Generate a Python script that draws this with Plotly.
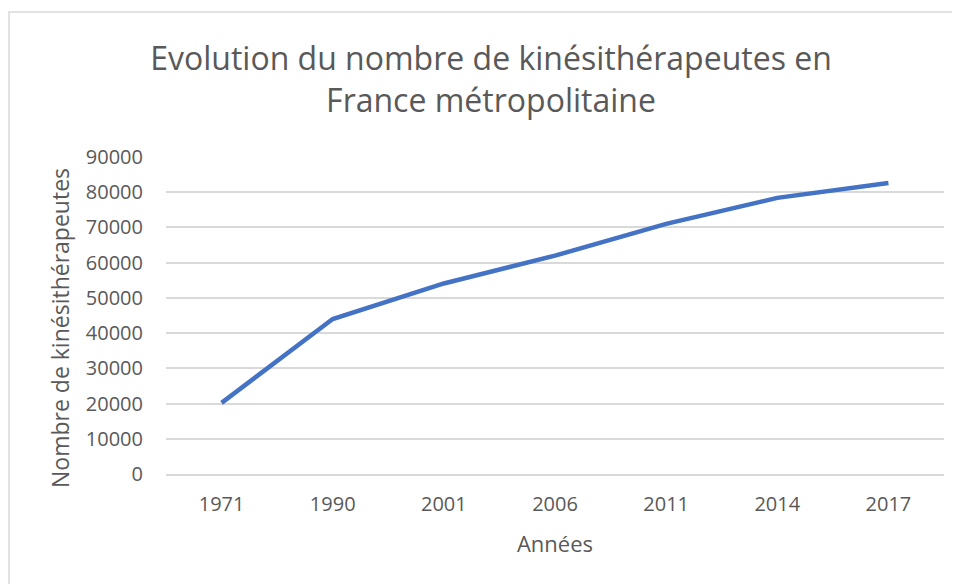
import plotly.graph_objects as go

# donnees
annees = ['1971', '1990', '2001', '2006', '2011', '2014', '2017']
nb_kines = [20200, 44000, 54100, 62000, 71000, 78400, 82600]
y_ticks = [0, 10000, 20000, 30000, 40000, 50000, 60000, 70000, 80000, 90000]

gris = '#595959'
fnt = 'Open Sans'

fig = go.Figure()
fig.add_trace(go.Scatter(
    x=annees,
    y=nb_kines,
    mode='lines',
    line=dict(color='#4472C4', width=4.5),
    showlegend=False,
))

# la page a une marge de 8px -> figure 952x576
OFF = 8
W, H = 960 - OFF, 584 - OFF
# plot area visee: x 166 -> 944, y 157 -> 474 (coord. fenetre)
l, r, t, b = 166 - OFF, 16, 157 - OFF, 110
pw, ph = W - l - r, H - t - b

fig.update_layout(
    width=W, height=H,
    margin=dict(l=l, r=r, t=t, b=b, pad=0),
    paper_bgcolor='white',
    plot_bgcolor='white',
    font=dict(family=fnt, color=gris, size=20),
    title=dict(
        text='Evolution du nombre de kinésithérapeutes en<br>France métropolitaine',
        xref='container', x=(491 - OFF) / W, xanchor='center',
        yref='container', y=1 - (70 - OFF) / H, yanchor='middle',
        font=dict(family=fnt, size=32, color=gris),
    ),
    xaxis=dict(
        type='category',
        range=[-0.5, 6.5],
        showgrid=False,
        showline=True,
        linecolor='#d9d9d9',
        linewidth=1.5,
        ticks='',
        tickfont=dict(size=20, color=gris),
        ticklabelstandoff=11,
        title=dict(text='Années', font=dict(size=22, color=gris), standoff=21),
    ),
    yaxis=dict(
        range=[0, 90000],
        tickvals=y_ticks,
        tickformat='d',
        showgrid=True,
        gridcolor='#d9d9d9',
        gridwidth=1.5,
        zeroline=False,
        showline=False,
        ticks='',
        tickfont=dict(size=20, color=gris),
        ticklabelstandoff=22,
    ),
)

# titre de l'axe vertical (un peu decale vers le bas comme dans Excel)
fig.add_annotation(
    text='Nombre de kinésithérapeutes',
    textangle=-90,
    xref='paper', yref='paper',
    x=(60 - 166) / pw, y=(474 - 328) / ph,
    xanchor='center', yanchor='middle',
    showarrow=False,
    font=dict(family=fnt, size=23, color=gris),
)

# cadre du graphique (style Excel)
fig.add_shape(
    type='rect', xref='paper', yref='paper',
    x0=(1 - l) / pw, x1=(W + 10 - l) / pw,
    y0=-(b + 20) / ph, y1=1 + (t - (12 - OFF)) / ph,
    line=dict(color='#d9d9d9', width=1.5),
    fillcolor='rgba(0,0,0,0)',
    layer='below',
)

fig.write_html("out.html")
